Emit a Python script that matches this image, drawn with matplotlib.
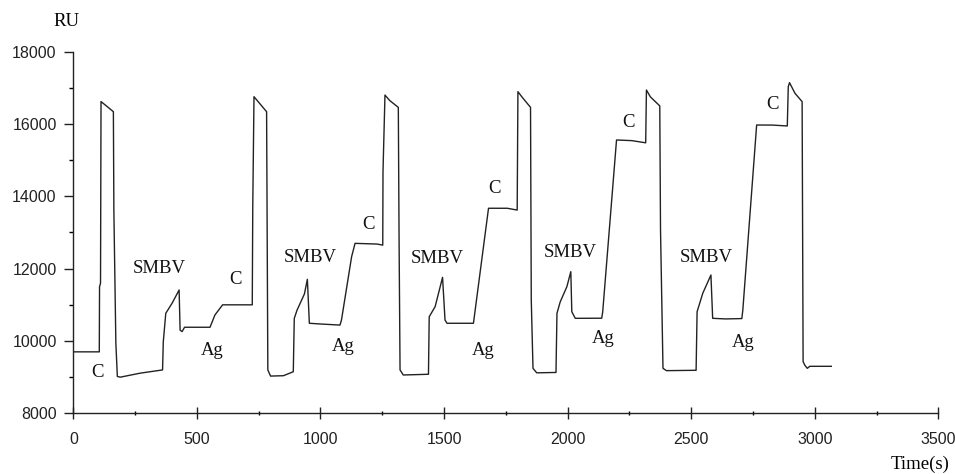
import matplotlib
matplotlib.use("Agg")
import matplotlib.pyplot as plt
from matplotlib.ticker import MultipleLocator

# sensorgram trace
time_s = [0, 105, 106, 110, 112, 130, 162, 164, 172, 178, 190, 270, 361, 364, 374, 400, 428,
          432, 440, 450, 553, 573, 604, 724, 726, 731, 750, 782, 787, 798, 850, 890,
          894, 905, 935, 947, 955, 1000, 1079, 1085, 1126, 1140, 1230, 1252, 1253, 1261,
          1280, 1315, 1318, 1322, 1335, 1437, 1440, 1464, 1494, 1504, 1512, 1619, 1680,
          1756, 1796, 1799, 1815, 1850, 1853, 1860, 1875, 1953, 1957, 1970, 1997, 2013,
          2017, 2031, 2138, 2142, 2198, 2260, 2316, 2319, 2335, 2373, 2376, 2386, 2400,
          2520, 2524, 2547, 2580, 2587, 2640, 2705, 2709, 2765, 2830, 2889, 2893, 2898,
          2920, 2949, 2953, 2960, 2970, 2980, 3067]
ru = [9700, 9700, 11500, 11600, 16620, 16520, 16340, 13600, 9950, 9020, 9000, 9110, 9200,
      9980, 10765, 11050, 11410, 10300, 10260, 10380, 10380, 10720, 11000, 11000, 13700,
      16755, 16600, 16340, 9200, 9030, 9040, 9150, 10625, 10850, 11300, 11705, 10490,
      10470, 10440, 10580, 12330, 12700, 12680, 12650, 14680, 16800, 16650, 16460, 12885,
      9200, 9060, 9080, 10670, 10950, 11760, 10580, 10490, 10490, 13670, 13670, 13620,
      16894, 16750, 16460, 11130, 9244, 9120, 9130, 10765, 11080, 11500, 11917, 10810,
      10627, 10630, 10800, 15558, 15540, 15480, 16940, 16750, 16500, 13070, 9244, 9180,
      9190, 10810, 11320, 11825, 10627, 10610, 10620, 10850, 15972, 15970, 15945, 17032,
      17143, 16850, 16618, 9429, 9330, 9244, 9300, 9300]

# annotations: text, time, RU
labels = ["C", "SMBV", "Ag", "C", "SMBV", "Ag", "C", "SMBV", "Ag", "C",
          "SMBV", "Ag", "C", "SMBV", "Ag", "C"]
label_t = [96, 347, 561, 658, 958, 1092, 1193, 1471, 1658, 1706,
           2009, 2143, 2245, 2563, 2709, 2831]
label_ru = [9142, 12017, 9750, 11710, 12320, 9840, 13230, 12290, 9750, 14230,
            12460, 10080, 16030, 12320, 9970, 16550]

serif = "Liberation Serif"

fig = plt.figure(figsize=(9.55, 4.74), dpi=100)
ax = fig.add_axes([0.0768, 0.128, 0.9057, 0.763])

ax.plot(time_s, ru, color="#222222", linewidth=1.0)

for txt, t, r in zip(labels, label_t, label_ru):
    ax.text(t, r, txt, family=serif, fontsize=13.5, ha="center", va="center", color="#111111")

ax.set_xlim(0, 3500)
ax.set_ylim(8000, 18000)
ax.xaxis.set_major_locator(MultipleLocator(500))
ax.xaxis.set_minor_locator(MultipleLocator(250))
ax.yaxis.set_major_locator(MultipleLocator(2000))
ax.yaxis.set_minor_locator(MultipleLocator(1000))

for side in ["top", "right"]:
    ax.spines[side].set_visible(False)
for side in ["left", "bottom"]:
    ax.spines[side].set_linewidth(1.0)
    ax.spines[side].set_color("#222222")

ax.tick_params(axis="x", which="major", direction="inout", length=8.5, width=1.0,
               pad=9, labelsize=11.5, colors="#222222")
ax.tick_params(axis="x", which="minor", direction="inout", length=3, width=1.0)
ax.tick_params(axis="y", which="major", direction="out", length=6.5, width=1.0,
               pad=5.5, labelsize=11.5, colors="#222222")
ax.tick_params(axis="y", which="minor", direction="out", length=3, width=1.0)
for lab in ax.get_xticklabels() + ax.get_yticklabels():
    lab.set_family("Liberation Sans")

fig.text(67 / 955, 1 - 22 / 474, "RU", family=serif, fontsize=13.5, ha="center", va="center")
fig.text(920 / 955, 1 - 464 / 474, "Time(s)", family=serif, fontsize=13.5, ha="center", va="center")

fig.savefig("out.png", dpi=100)
